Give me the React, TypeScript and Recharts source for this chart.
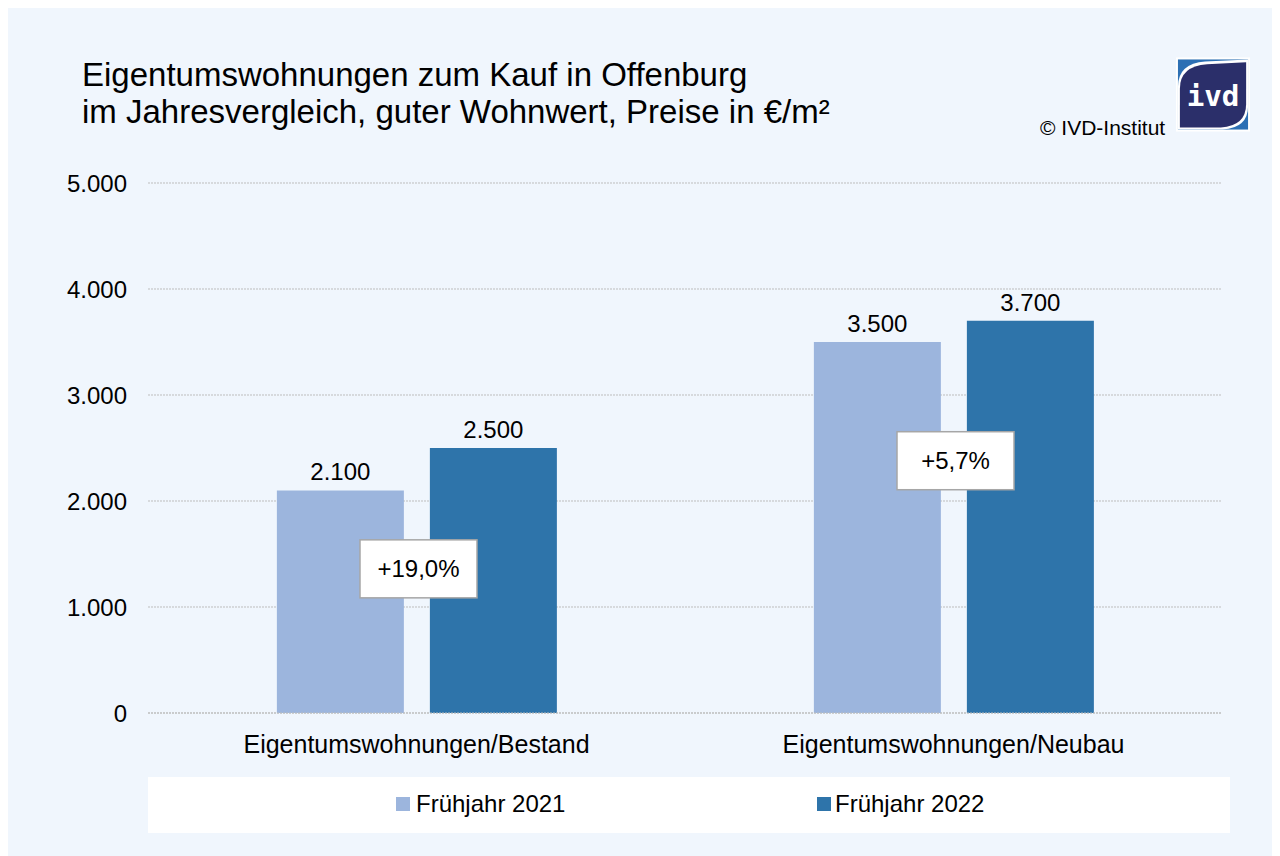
import React from 'react';
import {
  BarChart,
  Bar,
  XAxis,
  YAxis,
  CartesianGrid,
  LabelList,
  Legend,
  ReferenceDot,
} from 'recharts';

const categories = ['Eigentumswohnungen/Bestand', 'Eigentumswohnungen/Neubau'];
const spring2021 = [2100, 3500];
const spring2022 = [2500, 3700];
const changeLabels = ['+19,0%', '+5,7%'];
// where the change boxes sit on the value axis
const changeBoxY = [1360, 2380];
const yTicks = [0, 1000, 2000, 3000, 4000, 5000];

const LIGHT = '#9cb5dd';
const DARK = '#2e74aa';
const FONT = '"Liberation Sans", Arial, sans-serif';

const data = categories.map((name, i) => ({
  name,
  v2021: spring2021[i],
  v2022: spring2022[i],
}));

const fmt = (v: number) => {
  const s = String(Math.round(v));
  return s.replace(/\B(?=(\d{3})+(?!\d))/g, '.');
};

const ChangeBox = (props: any) => {
  const { cx, cy, label } = props;
  const w = 117;
  const h = 58;
  return (
    <g>
      <rect x={cx - w / 2 + 2} y={cy - h / 2} width={w} height={h} fill="#fff" stroke="#a6a6a6" strokeWidth={1.5} />
      <text x={cx + 2} y={cy} textAnchor="middle" dominantBaseline="central" fontSize={24} fill="#000" fontFamily={FONT}>
        {label}
      </text>
    </g>
  );
};

const LegendBox = () => (
  <div
    style={{
      width: 1082,
      height: 56,
      background: '#fff',
      fontFamily: FONT,
      fontSize: 24,
      color: '#000',
      position: 'relative',
    }}
  >
    <span style={{ position: 'absolute', left: 248, top: 20, width: 14, height: 14, background: LIGHT }} />
    <span style={{ position: 'absolute', left: 268, top: 13, lineHeight: '28px' }}>Frühjahr 2021</span>
    <span style={{ position: 'absolute', left: 669, top: 20, width: 14, height: 14, background: DARK }} />
    <span style={{ position: 'absolute', left: 687, top: 13, lineHeight: '28px' }}>Frühjahr 2022</span>
  </div>
);

export default function App() {
  return (
    <div style={{ position: 'relative', width: 1264, height: 848, background: '#f0f6fd', fontFamily: FONT }}>
      <div style={{ position: 'absolute', left: 74, top: 48, fontSize: 33, lineHeight: '37px', color: '#000', whiteSpace: 'nowrap' }}>
        Eigentumswohnungen zum Kauf in Offenburg
        <br />
        im Jahresvergleich, guter Wohnwert, Preise in €/m²
      </div>
      <div style={{ position: 'absolute', left: 1032, top: 108, fontSize: 21, lineHeight: '24px', color: '#000' }}>© IVD-Institut</div>
      <svg style={{ position: 'absolute', left: 1168, top: 49 }} width={74} height={75} viewBox="0 0 76 76">
        <rect x={0} y={0} width={76} height={76} fill="#fff" />
        <rect x={2} y={2} width={72} height={72} fill="#2d70b4" />
        <path d="M2 74 L2 30 Q2 6 30 4 L74 2 L74 50 Q74 72 48 74 Z" fill="#fff" />
        <path d="M4 72 L4 32 Q4 9 32 7 L72 5 L72 48 Q72 70 46 72 Z" fill="#2b2f6a" />
        <text x={38} y={50} textAnchor="middle" fontSize={30} fontWeight="bold" fill="#fff" fontFamily='"DejaVu Sans Mono", monospace'>
          ivd
        </text>
      </svg>
      <BarChart
        width={1264}
        height={848}
        data={data}
        margin={{ top: 175, right: 50, left: 80, bottom: 47 }}
        barCategoryGap="24%"
        barGap={26}
        style={{ position: 'absolute', left: 0, top: 0 }}
      >
        <CartesianGrid vertical={false} stroke="#bdbdbd" strokeDasharray="2 1" />
        <XAxis
          dataKey="name"
          axisLine={{ stroke: '#bdbdbd', strokeDasharray: '2 1' }}
          tickLine={false}
          tickSize={0}
          tickMargin={22}
          height={40}
          tick={{ fontSize: 25, fill: '#000', fontFamily: FONT }}
        />
        <YAxis
          domain={[0, 5000]}
          ticks={yTicks}
          interval={0}
          axisLine={false}
          tickLine={false}
          tickSize={0}
          tickMargin={21}
          width={60}
          tickFormatter={fmt}
          tick={{ fontSize: 24, fill: '#000', fontFamily: FONT }}
        />
        <Legend
          verticalAlign="bottom"
          content={() => <LegendBox />}
          wrapperStyle={{ left: 140, top: 769, width: 1082, height: 56, bottom: 'auto' }}
        />
        <Bar dataKey="v2021" fill={LIGHT} isAnimationActive={false}>
          <LabelList dataKey="v2021" position="top" offset={10} formatter={fmt} style={{ fontSize: 24, fill: '#000', fontFamily: FONT }} />
        </Bar>
        <Bar dataKey="v2022" fill={DARK} isAnimationActive={false}>
          <LabelList dataKey="v2022" position="top" offset={10} formatter={fmt} style={{ fontSize: 24, fill: '#000', fontFamily: FONT }} />
        </Bar>
        {categories.map((c, i) => (
          <ReferenceDot
            key={c}
            x={c}
            y={changeBoxY[i]}
            r={1}
            shape={(p: any) => <ChangeBox {...p} label={changeLabels[i]} />}
          />
        ))}
      </BarChart>
    </div>
  );
}
